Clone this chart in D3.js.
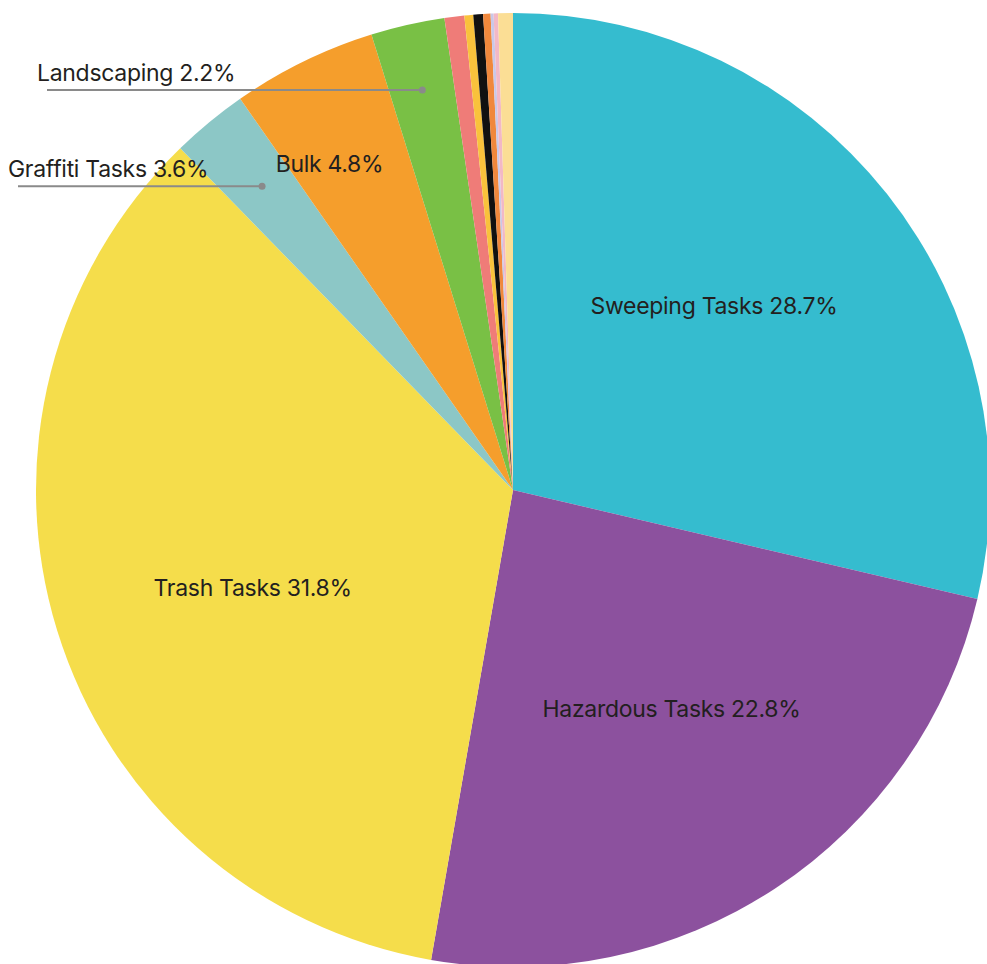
<!DOCTYPE html>
<html>
<head>
<meta charset="utf-8">
<script src="https://cdn.jsdelivr.net/npm/d3@7"></script>
<style>
  body { margin: 0; background: #fff; }
  svg text { font-family: Inter, "Open Sans", sans-serif; fill: #231f20; }
</style>
</head>
<body>
<div class="plot"></div>
<script>
/* data (clockwise from 12 o'clock) */
const categories = ["Sweeping Tasks", "Hazardous Tasks", "Trash Tasks", "Graffiti Tasks", "Bulk",
  "Landscaping", "Other A", "Other B", "Other C", "Other D", "Other E", "Other F", "Other G"];
const values = [28.7, 24.1, 35.0, 2.6, 4.9, 2.5, 0.67, 0.3, 0.33, 0.25, 0.1, 0.15, 0.5];
const labelPct = ["28.7%", "22.8%", "31.8%", "3.6%", "4.8%", "2.2%", "", "", "", "", "", "", ""];
const colors = ["#35bccf", "#8c519e", "#f5dd4b", "#8cc7c6", "#f59e2c", "#79c045", "#ef7c78",
  "#f9c23c", "#111111", "#f0883c", "#c9c8e8", "#f2b8c6", "#fbde95"];

const data = categories.map((c, i) => ({name: c, value: values[i], pct: labelPct[i], color: colors[i]}));

/* svg */
const width = 987, height = 964;
const cx = 513, cy = 490, radius = 477;

const svg = d3.select(".plot").append("svg")
  .attr("width", width)
  .attr("height", height)
  .append("g")
    .attr("transform", `translate(${cx},${cy})`);

const pie = d3.pie().sort(null).value(d => d.value);
const arcs = pie(data);

const arc = d3.arc().innerRadius(0).outerRadius(radius);

svg.selectAll(".slice")
  .data(arcs)
  .join("path")
    .attr("class", "slice")
    .attr("d", arc)
    .attr("fill", d => d.data.color);

/* labels inside the big slices */
const inside = {"Sweeping Tasks": 0.575, "Hazardous Tasks": 0.565, "Trash Tasks": 0.58, "Bulk": 0.78};
const nudge = {"Sweeping Tasks": [-14, -14], "Hazardous Tasks": [10, -6], "Trash Tasks": [4, 16], "Bulk": [-20, 8]};

svg.selectAll(".inLabel")
  .data(arcs.filter(d => inside[d.data.name]))
  .join("text")
    .attr("class", "inLabel")
    .attr("transform", d => {
      const k = radius * inside[d.data.name];
      const c = d3.arc().innerRadius(k).outerRadius(k).centroid(d);
      const n = nudge[d.data.name];
      return `translate(${c[0] + n[0]},${c[1] + n[1]})`;
    })
    .attr("text-anchor", "middle")
    .attr("dy", "0.35em")
    .attr("font-size", 23)
    .attr("letter-spacing", "-0.3px")
    .text(d => `${d.data.name} ${d.data.pct}`);

/* callouts for the thin slices */
const callX = {"Graffiti Tasks": 8 - cx, "Landscaping": 37 - cx};
const callR = {"Graffiti Tasks": 0.826, "Landscaping": 0.86};

const calls = svg.selectAll(".callout")
  .data(arcs.filter(d => callX[d.data.name] !== undefined))
  .join("g")
    .attr("class", "callout");

calls.each(function(d) {
  const g = d3.select(this);
  const k = radius * callR[d.data.name];
  const p = d3.arc().innerRadius(k).outerRadius(k).centroid(d);
  const x0 = callX[d.data.name];
  g.append("line")
    .attr("x1", x0 + 10).attr("x2", p[0])
    .attr("y1", p[1]).attr("y2", p[1])
    .attr("stroke", "#8a8a8a")
    .attr("stroke-width", 2);
  g.append("circle")
    .attr("cx", p[0]).attr("cy", p[1])
    .attr("r", 3.5)
    .attr("fill", "#8a8a8a");
  g.append("text")
    .attr("x", x0)
    .attr("y", p[1] - 9)
    .attr("font-size", 23)
    .attr("letter-spacing", "-0.3px")
    .text(`${d.data.name} ${d.data.pct}`);
});
</script>
</body>
</html>
